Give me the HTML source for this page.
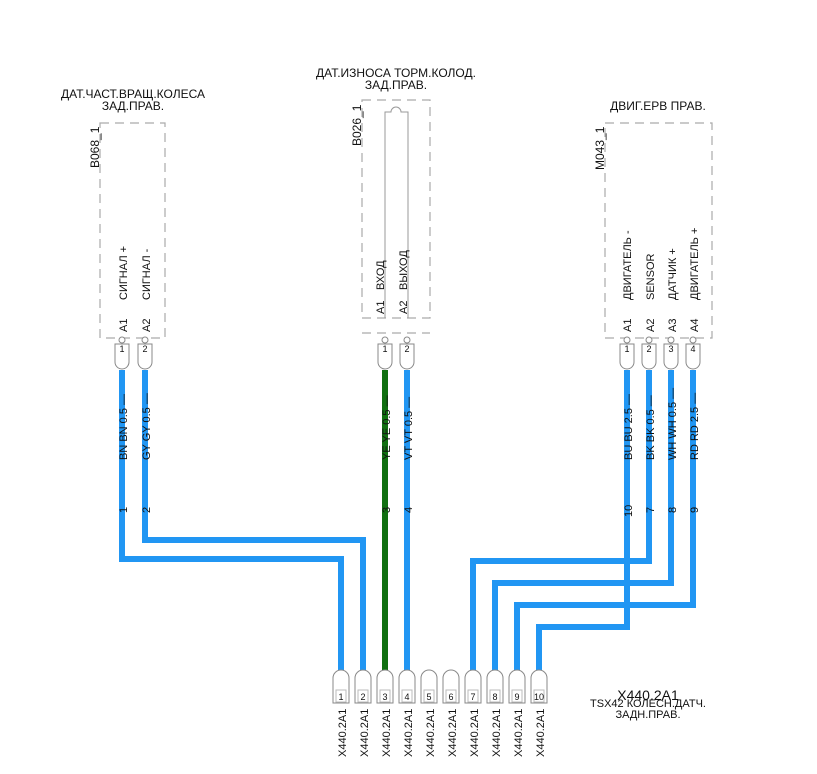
<!DOCTYPE html>
<html><head><meta charset="utf-8"><style>body{margin:0;background:#fff}svg{display:block}text{font-family:"Liberation Sans",sans-serif;fill:#111}</style></head><body>
<svg width="817" height="774" viewBox="0 0 817 774" xmlns="http://www.w3.org/2000/svg">
<defs>
<g id="t"><circle cx="0" cy="340" r="3"/><path d="M-7 344 H7 V362 A7 7 0 0 1 -7 362 Z"/></g>
<g id="b"><path d="M-8 703 V678 A8 8 0 0 1 8 678 V703 Z"/><rect x="-5" y="690" width="10" height="12" stroke="#bbb"/></g>
</defs>
<g fill="none" stroke="#aaa" stroke-width="1.2" stroke-dasharray="9,6">
<rect x="100" y="123" width="65" height="215"/>
<rect x="362" y="100" width="68" height="218"/>
<line x1="362" y1="333" x2="430" y2="333"/>
<rect x="605" y="123" width="107" height="215"/>
</g>
<path d="M385 318 V112 H391 A5 5 0 0 1 401 112 H408 V318" fill="none" stroke="#999" stroke-width="1"/>
<g font-size="12" text-anchor="middle">
<text x="133" y="98">ДАТ.ЧАСТ.ВРАЩ.КОЛЕСА</text><text x="133" y="110">ЗАД.ПРАВ.</text>
<text x="396" y="77">ДАТ.ИЗНОСА ТОРМ.КОЛОД.</text><text x="396" y="89">ЗАД.ПРАВ.</text>
<text x="658" y="110">ДВИГ.ЕРВ ПРАВ.</text>
</g>
<g font-size="12">
<text transform="translate(99,168) rotate(-90)">B068_1</text>
<text transform="translate(361,146) rotate(-90)">B026_1</text>
<text transform="translate(604,170) rotate(-90)">M043_1</text>
</g>
<g font-size="11">
<text transform="translate(127,300) rotate(-90)">СИГНАЛ +</text>
<text transform="translate(150,300) rotate(-90)">СИГНАЛ -</text>
<text transform="translate(127,332) rotate(-90)">A1</text>
<text transform="translate(150,332) rotate(-90)">A2</text>
<text transform="translate(384,290) rotate(-90)">ВХОД</text>
<text transform="translate(407,290) rotate(-90)">ВЫХОД</text>
<text transform="translate(384,314) rotate(-90)">A1</text>
<text transform="translate(407,314) rotate(-90)">A2</text>
<text transform="translate(631,300) rotate(-90)">ДВИГАТЕЛЬ -</text>
<text transform="translate(654,300) rotate(-90)">SENSOR</text>
<text transform="translate(676,300) rotate(-90)">ДАТЧИК +</text>
<text transform="translate(698,300) rotate(-90)">ДВИГАТЕЛЬ +</text>
<text transform="translate(631,332) rotate(-90)">A1</text>
<text transform="translate(654,332) rotate(-90)">A2</text>
<text transform="translate(676,332) rotate(-90)">A3</text>
<text transform="translate(698,332) rotate(-90)">A4</text>
</g>
<g fill="none" stroke-width="6" stroke-linejoin="miter">
<path d="M122 370 V559 H341 V672" stroke="#2196f3"/>
<path d="M145 370 V540 H363 V672" stroke="#2196f3"/>
<path d="M385 370 V672" stroke="#107010"/>
<path d="M407 370 V672" stroke="#2196f3"/>
<path d="M627 370 V627 H539 V672" stroke="#2196f3"/>
<path d="M649 370 V561 H473 V672" stroke="#2196f3"/>
<path d="M671 370 V583 H495 V672" stroke="#2196f3"/>
<path d="M693 370 V605 H517 V672" stroke="#2196f3"/>
</g>
<g fill="#fff" stroke="#888" stroke-width="1">
<use href="#t" x="122"/><use href="#t" x="145"/><use href="#t" x="385"/><use href="#t" x="407"/>
<use href="#t" x="627"/><use href="#t" x="649"/><use href="#t" x="671"/><use href="#t" x="693"/>
</g>
<g font-size="9" text-anchor="middle">
<text x="122" y="352">1</text><text x="145" y="352">2</text><text x="385" y="352">1</text><text x="407" y="352">2</text>
<text x="627" y="352">1</text><text x="649" y="352">2</text><text x="671" y="352">3</text><text x="693" y="352">4</text>
</g>
<g font-size="11">
<text transform="translate(127,460) rotate(-90)">BN BN 0.5 —</text>
<text transform="translate(150,460) rotate(-90)">GY GY 0.5 —</text>
<text transform="translate(390,460) rotate(-90)">YE YE 0.5 —</text>
<text transform="translate(412,460) rotate(-90)">VT VT 0.5 —</text>
<text transform="translate(632,460) rotate(-90)">BU BU 2.5 —</text>
<text transform="translate(654,460) rotate(-90)">BK BK 0.5 —</text>
<text transform="translate(676,460) rotate(-90)">WH WH 0.5 —</text>
<text transform="translate(698,460) rotate(-90)">RD RD 2.5 —</text>
<text transform="translate(127,513) rotate(-90)">1</text>
<text transform="translate(150,513) rotate(-90)">2</text>
<text transform="translate(390,513) rotate(-90)">3</text>
<text transform="translate(412,513) rotate(-90)">4</text>
<text transform="translate(632,517) rotate(-90)">10</text>
<text transform="translate(654,513) rotate(-90)">7</text>
<text transform="translate(676,513) rotate(-90)">8</text>
<text transform="translate(698,513) rotate(-90)">9</text>
</g>
<g fill="#fff" stroke="#888" stroke-width="1">
<use href="#b" x="341"/><use href="#b" x="363"/><use href="#b" x="385"/><use href="#b" x="407"/><use href="#b" x="429"/>
<use href="#b" x="451"/><use href="#b" x="473"/><use href="#b" x="495"/><use href="#b" x="517"/><use href="#b" x="539"/>
</g>
<g font-size="9" text-anchor="middle">
<text x="341" y="700">1</text><text x="363" y="700">2</text><text x="385" y="700">3</text><text x="407" y="700">4</text><text x="429" y="700">5</text>
<text x="451" y="700">6</text><text x="473" y="700">7</text><text x="495" y="700">8</text><text x="517" y="700">9</text><text x="539" y="700">10</text>
</g>
<g font-size="11">
<text transform="translate(346,757) rotate(-90)">X440.2A1</text>
<text transform="translate(368,757) rotate(-90)">X440.2A1</text>
<text transform="translate(390,757) rotate(-90)">X440.2A1</text>
<text transform="translate(412,757) rotate(-90)">X440.2A1</text>
<text transform="translate(434,757) rotate(-90)">X440.2A1</text>
<text transform="translate(456,757) rotate(-90)">X440.2A1</text>
<text transform="translate(478,757) rotate(-90)">X440.2A1</text>
<text transform="translate(500,757) rotate(-90)">X440.2A1</text>
<text transform="translate(522,757) rotate(-90)">X440.2A1</text>
<text transform="translate(544,757) rotate(-90)">X440.2A1</text>
</g>
<g text-anchor="middle">
<text x="648" y="700" font-size="14">X440.2A1</text>
<text x="648" y="707" font-size="11">TSX42 КОЛЕСН.ДАТЧ.</text>
<text x="648" y="718" font-size="11">ЗАДН.ПРАВ.</text>
</g>
</svg>
</body></html>
